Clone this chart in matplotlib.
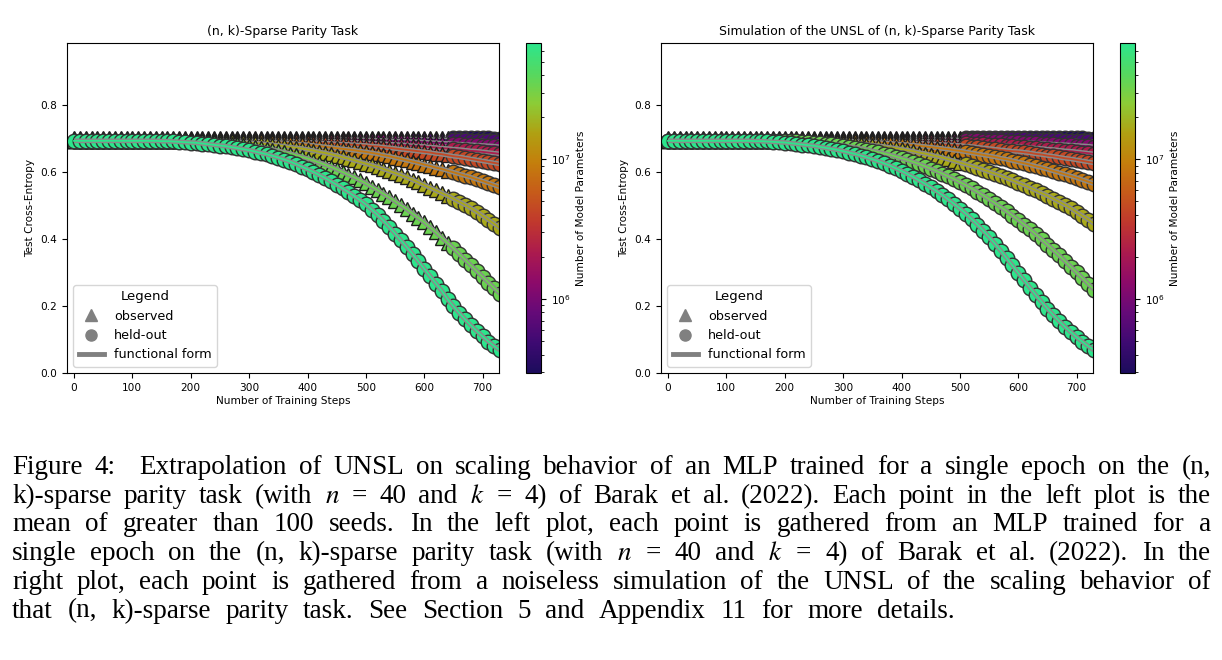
import matplotlib

matplotlib.use("Agg")

import matplotlib.pyplot as plt  # noqa: E402
from matplotlib.colors import LinearSegmentedColormap, LogNorm  # noqa: E402
from matplotlib.cm import ScalarMappable  # noqa: E402
from matplotlib.lines import Line2D  # noqa: E402

# Training steps, one point every 10 steps
steps = list(range(0, 740, 10))

# Model sizes (number of parameters), smallest first
model_params = [2.95e5, 5.8e5, 1.15e6, 2.2e6, 4.4e6, 8.6e6, 1.7e7, 3.4e7, 6.8e7]

# --- left plot: measured test cross-entropy, rows are 100-step blocks ---
navy_ce = [0.701] * 70 + [0.700, 0.700, 0.699, 0.699]
purple_ce = ([0.698] * 60
             + [.697, .697, .696, .696, .695, .695, .694, .694, .693, .693]
             + [.692, .691, .691, .690])
magenta_ce = ([0.696] * 50
              + [.695, .695, .694, .694, .693, .692, .692, .691, .690, .690]
              + [.689, .688, .687, .686, .685, .684, .683, .682, .681, .680]
              + [.679, .678, .677, .675])
crimson_ce = ([0.694] * 40
              + [.693, .693, .692, .692, .691, .691, .690, .689, .689, .688]
              + [.687, .686, .685, .684, .683, .682, .681, .680, .678, .677]
              + [.676, .674, .673, .671, .670, .668, .667, .665, .663, .662]
              + [.660, .658, .656, .654])
red_ce = ([0.693] * 30
          + [.693, .693, .693, .693, .693, .692, .692, .691, .691, .690]
          + [.689, .688, .687, .686, .685, .684, .683, .682, .681, .680]
          + [.679, .677, .676, .674, .672, .670, .668, .666, .664, .662]
          + [.660, .658, .655, .653, .650, .647, .645, .642, .639, .636]
          + [.633, .630, .627, .624])
orange_ce = ([0.693] * 30
             + [.692, .692, .691, .690, .689, .688, .687, .686, .684, .683]
             + [.681, .679, .677, .675, .673, .671, .669, .667, .665, .662]
             + [.660, .657, .654, .650, .647, .643, .639, .635, .631, .627]
             + [.622, .618, .613, .609, .604, .599, .594, .589, .584, .578]
             + [.573, .567, .561, .555])
olive_ce = ([0.693] * 20
            + [.693, .693, .693, .693, .693, .692, .692, .691, .690, .689]
            + [.688, .686, .685, .683, .681, .679, .677, .674, .672, .670]
            + [.667, .664, .660, .657, .653, .649, .644, .640, .635, .630]
            + [.625, .620, .615, .609, .603, .597, .591, .584, .577, .569]
            + [.561, .553, .545, .537, .529, .520, .511, .502, .492, .481]
            + [.469, .457, .445, .432])
green_ce = ([0.693] * 20
            + [.692, .692, .691, .690, .689, .688, .687, .685, .683, .681]
            + [.679, .676, .673, .670, .667, .663, .659, .655, .650, .645]
            + [.640, .634, .628, .622, .615, .608, .600, .592, .584, .575]
            + [.566, .556, .546, .535, .524, .513, .501, .489, .476, .463]
            + [.450, .435, .420, .404, .388, .372, .355, .338, .321, .304]
            + [.287, .270, .253, .237])
mint_ce = ([0.693] * 10
           + [.693, .693, .693, .693, .693, .692, .692, .691, .690, .689]
           + [.688, .687, .685, .683, .681, .679, .677, .674, .671, .668]
           + [.665, .661, .657, .653, .648, .643, .637, .631, .624, .616]
           + [.608, .600, .591, .582, .572, .562, .551, .540, .528, .516]
           + [.503, .488, .472, .455, .436, .416, .396, .376, .355, .333]
           + [.311, .289, .267, .245, .220, .199, .179, .160, .142, .125]
           + [.109, .094, .080, .068])

# --- right plot: noiseless simulation ---
sim_red_ce = ([0.693] * 30
              + [.693, .693, .693, .693, .693, .692, .692, .691, .691, .690]
              + [.689, .688, .687, .686, .685, .684, .683, .682, .681, .680]
              + [.679, .677, .676, .674, .672, .670, .668, .666, .664, .662]
              + [.661, .659, .657, .654, .652, .649, .647, .644, .641, .639]
              + [.636, .633, .630, .627])
sim_orange_ce = ([0.693] * 30
                 + [.692, .692, .691, .690, .690, .689, .688, .687, .686, .684]
                 + [.683, .681, .680, .678, .676, .674, .672, .670, .668, .665]
                 + [.663, .660, .657, .654, .651, .648, .645, .641, .638, .634]
                 + [.630, .626, .622, .617, .613, .608, .603, .598, .593, .588]
                 + [.583, .577, .571, .565])
sim_olive_ce = ([0.693] * 20
                + [.693, .693, .693, .693, .692, .692, .691, .691, .690, .689]
                + [.688, .687, .685, .684, .682, .680, .678, .676, .673, .671]
                + [.668, .665, .662, .658, .655, .651, .647, .643, .638, .633]
                + [.628, .623, .618, .613, .607, .601, .595, .589, .582, .575]
                + [.568, .561, .553, .545, .537, .529, .520, .511, .502, .492]
                + [.480, .469, .458, .446])
sim_green_ce = ([0.693] * 20
                + [.692, .692, .691, .690, .689, .688, .687, .685, .683, .681]
                + [.679, .676, .673, .670, .667, .663, .659, .655, .651, .646]
                + [.641, .636, .630, .624, .617, .610, .603, .595, .587, .579]
                + [.570, .561, .551, .541, .530, .519, .507, .495, .483, .470]
                + [.457, .443, .429, .414, .399, .383, .367, .351, .334, .317]
                + [.300, .283, .266, .249])
sim_mint_ce = ([0.693] * 10
               + [.693, .693, .693, .693, .693, .692, .692, .691, .690, .689]
               + [.688, .686, .684, .682, .680, .678, .675, .672, .669, .666]
               + [.662, .658, .654, .649, .644, .638, .632, .626, .619, .611]
               + [.603, .594, .585, .575, .565, .554, .543, .531, .518, .505]
               + [.491, .476, .460, .443, .425, .406, .386, .365, .343, .321]
               + [.299, .277, .255, .233, .212, .192, .173, .155, .138, .122]
               + [.107, .093, .080, .068])

left_curves = [navy_ce, purple_ce, magenta_ce, crimson_ce, red_ce,
               orange_ce, olive_ce, green_ce, mint_ce]
right_curves = [navy_ce, purple_ce, magenta_ce, crimson_ce, sim_red_ce,
                sim_orange_ce, sim_olive_ce, sim_green_ce, sim_mint_ce]

# last observed step per model (None = fully held out)
left_cutoff = [640] * 8 + [None]
right_cutoff = [500] * 7 + [None, None]

CMAP = LinearSegmentedColormap.from_list("params", [
    "#1c0c5c", "#3e0a72", "#650a78", "#8c0a6a", "#ab1a4e", "#c0372e",
    "#c65a1a", "#c47e0c", "#b0a012", "#8ccc36", "#55d860", "#2ce68c"])
NORM = LogNorm(vmin=2.95e5, vmax=6.8e7)

W, H = 1222, 660

CAPTION_LINES = [
    "Figure 4:  Extrapolation of UNSL on scaling behavior of an MLP trained for a single epoch on the (n,",
    "k)-sparse parity task (with $n$ = 40 and $k$ = 4) of Barak et al. (2022). Each point in the left plot is the",
    "mean of greater than 100 seeds. In the left plot, each point is gathered from an MLP trained for a",
    "single epoch on the (n, k)-sparse parity task (with $n$ = 40 and $k$ = 4) of Barak et al. (2022). In the",
    "right plot, each point is gathered from a noiseless simulation of the UNSL of the scaling behavior of",
    "that (n, k)-sparse parity task. See Section 5 and Appendix 11 for more details.",
]


def draw_panel(ax, cax, curves, cutoffs, title):
    for params, values, cut in zip(model_params, curves, cutoffs):
        color = CMAP(NORM(params))
        obs = [(s, v) for s, v in zip(steps, values) if cut is not None and s <= cut]
        held = [(s, v) for s, v in zip(steps, values) if cut is None or s > cut]
        if obs:
            ax.plot([p[0] for p in obs], [p[1] for p in obs], ls="none", marker="^",
                    markersize=10.5, color=color, markeredgecolor="#1e1e1e", markeredgewidth=1.0)
        ax.plot([p[0] for p in held], [p[1] for p in held], ls="none", marker="o",
                markersize=10.5, color=color, markeredgecolor="#333333", markeredgewidth=1.0)
        ax.plot(steps, values, color="#8a8a8a", linewidth=3.4, solid_capstyle="butt")
        ax.plot(steps, values, color=color, linewidth=1.3)

    ax.set_xlim(-12, 728)
    ax.set_ylim(0, 0.985)
    ax.set_yticks([0.0, 0.2, 0.4, 0.6, 0.8])
    ax.set_xticks([0, 100, 200, 300, 400, 500, 600, 700])
    ax.tick_params(labelsize=7.6)
    ax.set_title(title, fontsize=9.0)
    ax.set_xlabel("Number of Training Steps", fontsize=7.6, labelpad=2)
    ax.set_ylabel("Test Cross-Entropy", fontsize=7.6, labelpad=4)

    handles = [
        Line2D([], [], ls="none", marker="^", markersize=8, color="gray"),
        Line2D([], [], ls="none", marker="o", markersize=8, color="gray"),
        Line2D([], [], color="gray", linewidth=3.5),
    ]
    ax.legend(handles, ["observed", "held-out", "functional form"], title="Legend",
              loc="lower left", fontsize=9.2, title_fontsize=9.5)

    sm = ScalarMappable(norm=NORM, cmap=CMAP)
    cb = plt.colorbar(sm, cax=cax)
    cb.set_label("Number of Model Parameters", fontsize=7.6)
    cb.ax.tick_params(labelsize=7.6)


fig = plt.figure(figsize=(W / 100, H / 100), dpi=100)
ax_l = fig.add_axes([67 / W, 1 - 373 / H, 432 / W, 330 / H])
cax_l = fig.add_axes([526 / W, 1 - 373 / H, 15 / W, 330 / H])
ax_r = fig.add_axes([661 / W, 1 - 373 / H, 432 / W, 330 / H])
cax_r = fig.add_axes([1120 / W, 1 - 373 / H, 15 / W, 330 / H])

draw_panel(ax_l, cax_l, left_curves, left_cutoff, "(n, k)-Sparse Parity Task")
draw_panel(ax_r, cax_r, right_curves, right_cutoff,
           "Simulation of the UNSL of (n, k)-Sparse Parity Task")

# Caption, justified line by line like the LaTeX source (last line is ragged)
caption_style = dict(fontsize=19.5, family="Liberation Serif", math_fontfamily="stix",
                     va="baseline", ha="left")
fig.canvas.draw()
renderer = fig.canvas.get_renderer()
left_px = 12
line_right_px = [1211, 1211, 1211, 1211, 1211, 955]
for i, line in enumerate(CAPTION_LINES):
    y = 1 - (474 + i * 28.7) / H
    words = line.split()
    texts = [fig.text(0, y, w, **caption_style) for w in words]
    widths = [t.get_window_extent(renderer).width for t in texts]
    weights = [2.0 if w == "4:" else 1.0 for w in words[:-1]]
    unit = (line_right_px[i] - left_px - sum(widths)) / sum(weights)
    x = left_px
    for j, (t, w) in enumerate(zip(texts, widths)):
        t.set_x(x / W)
        if j < len(weights):
            x += w + unit * weights[j]

fig.savefig("out.png", dpi=100)
